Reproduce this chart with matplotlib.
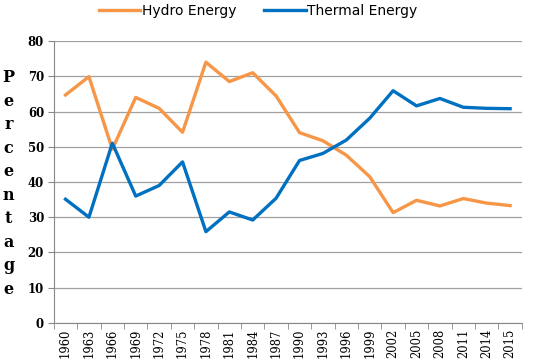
import matplotlib
matplotlib.use('Agg')
import matplotlib.pyplot as plt
import numpy as np

# data
years = ['1960', '1963', '1966', '1969', '1972', '1975', '1978', '1981', '1984', '1987',
         '1990', '1993', '1996', '1999', '2002', '2005', '2008', '2011', '2014', '2015']
hydro = [64.7, 69.9, 49.3, 64.0, 60.9, 54.1, 74.0, 68.5, 71.0, 64.4,
         54.0, 51.7, 47.6, 41.5, 31.3, 34.8, 33.2, 35.3, 34.0, 33.3]
thermal = [35.1, 30.0, 51.0, 36.0, 39.0, 45.7, 25.9, 31.5, 29.2, 35.4,
           46.1, 48.1, 51.9, 58.1, 65.9, 61.6, 63.7, 61.2, 60.9, 60.8]
y_ticks = [0, 10, 20, 30, 40, 50, 60, 70, 80]

fig = plt.figure(figsize=(5.33, 3.6), dpi=100)
ax = fig.add_axes([0.101, 0.103, 0.878, 0.783])

x = np.arange(len(years))
ax.plot(x, hydro, color='#F79646', linewidth=2.4, label='Hydro Energy')
ax.plot(x, thermal, color='#0070C0', linewidth=2.4, label='Thermal Energy')

ax.set_xlim(-0.5, len(years) - 0.5)
ax.set_ylim(0, 80)
ax.set_yticks(y_ticks)
ax.set_yticklabels([str(v) for v in y_ticks], fontfamily='DejaVu Serif',
                   fontweight='bold', fontsize=8.5)
ax.set_xticks(x)
ax.set_xticklabels(years, rotation=90, fontfamily='DejaVu Serif', fontsize=8.3)
ax.set_xticks(np.arange(len(years) + 1) - 0.5, minor=True)
ax.tick_params(axis='x', which='major', length=0, pad=4)
ax.tick_params(axis='x', which='minor', length=4, color='#888888')
ax.tick_params(axis='y', length=4, color='#888888', pad=3)

ax.grid(True, axis='y', color='#A0A0A0', linewidth=0.9)
ax.set_axisbelow(True)
for side in ['top', 'right']:
    ax.spines[side].set_visible(False)
for side in ['left', 'bottom']:
    ax.spines[side].set_color('#888888')

fig.text(0.016, 0.49, '\n'.join('Percentage'), ha='center', va='center',
         fontfamily='DejaVu Serif', fontweight='bold', fontsize=11.5, linespacing=1.5)

fig.legend(loc='upper center', bbox_to_anchor=(0.484, 1.025), ncol=2, frameon=False,
           fontsize=10, handlelength=3.0, handletextpad=0.1, columnspacing=2.0)

plt.savefig('out.png', dpi=100)
plt.close()
